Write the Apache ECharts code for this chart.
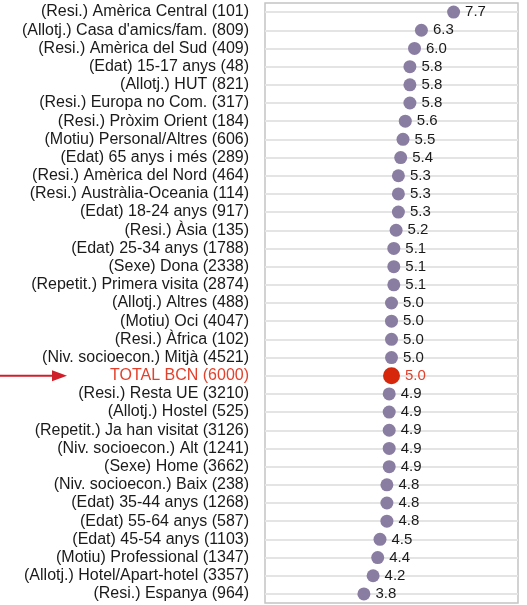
<!DOCTYPE html>
<html>
<head>
<meta charset="utf-8">
<script src="https://cdn.jsdelivr.net/npm/echarts@6/dist/echarts.min.js"></script>
<style>
  html, body { margin: 0; padding: 0; background: #fff; }
  #chart { width: 527px; height: 605px; }
</style>
</head>
<body>
<div id="chart"></div>
<script>
// categories, top to bottom
const categories = [
  "(Resi.) Amèrica Central (101)",
  "(Allotj.) Casa d'amics/fam. (809)",
  "(Resi.) Amèrica del Sud (409)",
  "(Edat) 15-17 anys (48)",
  "(Allotj.) HUT (821)",
  "(Resi.) Europa no Com. (317)",
  "(Resi.) Pròxim Orient (184)",
  "(Motiu) Personal/Altres (606)",
  "(Edat) 65 anys i més (289)",
  "(Resi.) Amèrica del Nord (464)",
  "(Resi.) Austràlia-Oceania (114)",
  "(Edat) 18-24 anys (917)",
  "(Resi.) Àsia (135)",
  "(Edat) 25-34 anys (1788)",
  "(Sexe) Dona (2338)",
  "(Repetit.) Primera visita (2874)",
  "(Allotj.) Altres (488)",
  "(Motiu) Oci (4047)",
  "(Resi.) Àfrica (102)",
  "(Niv. socioecon.) Mitjà (4521)",
  "TOTAL BCN (6000)",
  "(Resi.) Resta UE (3210)",
  "(Allotj.) Hostel (525)",
  "(Repetit.) Ja han visitat (3126)",
  "(Niv. socioecon.) Alt (1241)",
  "(Sexe) Home (3662)",
  "(Niv. socioecon.) Baix (238)",
  "(Edat) 35-44 anys (1268)",
  "(Edat) 55-64 anys (587)",
  "(Edat) 45-54 anys (1103)",
  "(Motiu) Professional (1347)",
  "(Allotj.) Hotel/Apart-hotel (3357)",
  "(Resi.) Espanya (964)"
];
const values = [
  7.7, 6.3, 6.0, 5.8, 5.8, 5.8, 5.6, 5.5, 5.4, 5.3, 5.3,
  5.3, 5.2, 5.1, 5.1, 5.1, 5.0, 5.0, 5.0, 5.0, 5.0, 4.9,
  4.9, 4.9, 4.9, 4.9, 4.8, 4.8, 4.8, 4.5, 4.4, 4.2, 3.8
];
const totalName = "TOTAL BCN (6000)";

const dotColor = "#8a7da2";
const totalColor = "#d6260c";
const totalText = "#e2412c";
const font = "Liberation Sans, Arial, sans-serif";

let myChart = echarts.init(document.getElementById("chart"));

let seriesData = categories.map((name, i) => {
  let isTotal = name === totalName;
  return {
    value: [values[i], name],
    symbolSize: isTotal ? 17 : 13,
    itemStyle: { color: isTotal ? totalColor : dotColor, opacity: 1 },
    label: { color: isTotal ? totalText : "#1a1a1a" }
  };
});

let option = {
  animation: false,
  grid: {
    left: 265,
    right: 9,
    top: 3,
    bottom: 2,
    show: true,
    borderColor: "#c4c4c4",
    borderWidth: 1.5,
    backgroundColor: "#fff"
  },
  xAxis: {
    type: "value",
    min: -0.5,
    max: 10.5,
    show: false
  },
  yAxis: {
    type: "category",
    data: categories,
    inverse: true,
    axisLine: { show: false },
    axisTick: { show: false },
    axisLabel: {
      interval: 0,
      margin: 16,
      fontFamily: font,
      fontSize: 16,
      color: "#1a1a1a",
      formatter: function (v) {
        return v === totalName ? "{t|" + v + "}" : v;
      },
      rich: {
        t: { color: totalText, fontSize: 16, fontFamily: font }
      }
    },
    // grid lines run through the middle of each row
    splitLine: {
      show: true,
      interval: 0,
      alignWithLabel: true,
      lineStyle: { color: "#e4e4e4", width: 2 }
    }
  },
  series: [
    {
      type: "scatter",
      data: seriesData,
      label: {
        show: true,
        position: "right",
        distance: 5,
        fontFamily: font,
        fontSize: 15,
        formatter: function (p) {
          return p.value[0].toFixed(1);
        }
      }
    }
  ]
};
myChart.setOption(option);

// red arrow pointing at the total row
let yTotal = myChart.convertToPixel({ yAxisIndex: 0 }, totalName);
myChart.setOption({
  graphic: [
    {
      type: "line",
      shape: { x1: 0, y1: yTotal, x2: 55, y2: yTotal },
      style: { stroke: "#d01f2a", lineWidth: 2 }
    },
    {
      type: "polygon",
      shape: { points: [[52, yTotal - 5.5], [67, yTotal], [52, yTotal + 5.5]] },
      style: { fill: "#d01f2a" }
    }
  ]
});
</script>
</body>
</html>
